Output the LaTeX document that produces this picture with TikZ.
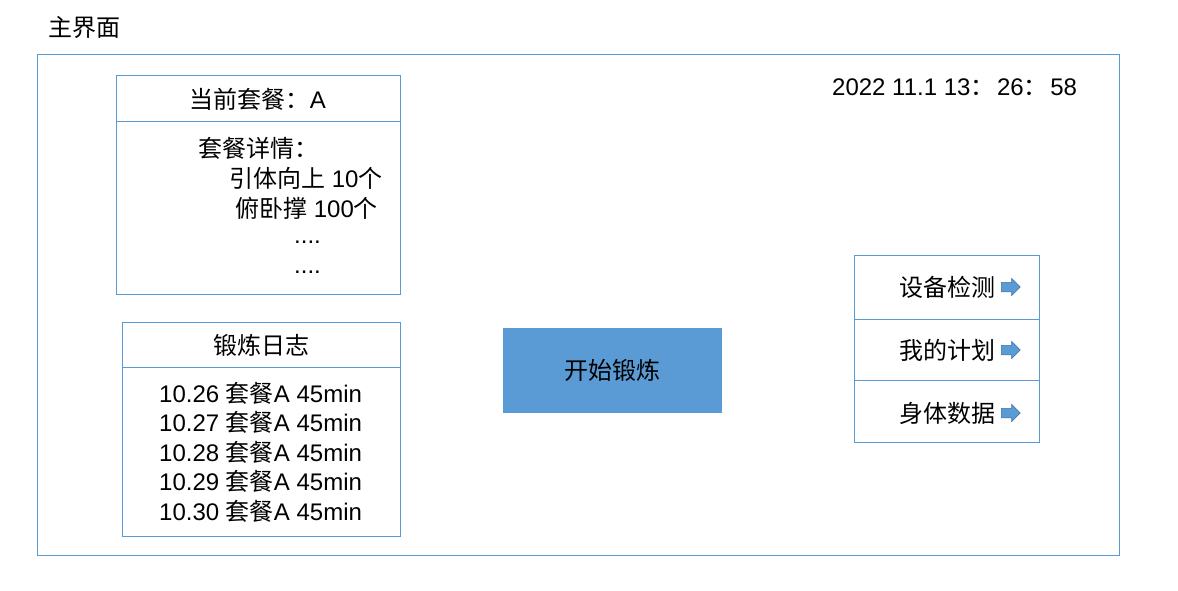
\documentclass[tikz,border=0pt]{standalone}
\usepackage{fontspec}
\setmainfont{Liberation Sans}
\newfontfamily\cjk{Noto Sans CJK SC}
\usepackage{tikz}
\usetikzlibrary{shapes.arrows, positioning}
\definecolor{uiBlue}{RGB}{91, 155, 213}
\definecolor{uiBlueDark}{RGB}{65, 113, 156}
\begin{document}
\begin{tikzpicture}[
    x=1pt, y=-1pt,
    every node/.style={font=\fontsize{24}{29}\selectfont, inner sep=0pt},
    frame/.style={draw=uiBlue, line width=0.8pt},
    item/.style={anchor=west},
    menuitem/.style={anchor=east},
    goarrow/.style={single arrow, fill=uiBlue, draw=uiBlueDark, line width=0.5pt, minimum height=19pt, inner xsep=0pt, inner ysep=4.5pt, single arrow head extend=4pt},
    startbtn/.style={fill=uiBlue, minimum width=219pt, minimum height=85pt},
]
\useasboundingbox (0,0) rectangle (1178,591);
\node[item] (title) at (48,28) {\cjk 主界面};
\draw[frame] (37,54) rectangle (1119,555);
\node[item] (clock) at (832,87) {2022 11.1 13{\cjk ：}\kern2.5pt 26{\cjk ：}\kern2.5pt 58};
% current plan
\draw[frame] (116,75) rectangle (400,294);
\draw[frame] (116,121) -- (400,121);
\node (plan) at (258,99) {{\cjk 当前套餐：}A};
\node[item] (detail) at (198,148) {\cjk 套餐详情：};
\node[item] (d1) at (229,178) {{\cjk 引体向上} 10{\cjk 个}};
\node[item] (d2) at (235,208) {{\cjk 俯卧撑} 100{\cjk 个}};
\node[item] (d3) at (294,242) {....};
\node[item] (d4) at (294,272) {....};
% training log
\draw[frame] (122,322) rectangle (400,536);
\draw[frame] (122,367) -- (400,367);
\node (log) at (261,345) {\cjk 锻炼日志};
\node[item] (l1) at (159,393) {10.26 {\cjk 套餐}A 45min};
\node[item] (l2) at (159,422) {10.27 {\cjk 套餐}A 45min};
\node[item] (l3) at (159,452) {10.28 {\cjk 套餐}A 45min};
\node[item] (l4) at (159,481) {10.29 {\cjk 套餐}A 45min};
\node[item] (l5) at (159,511) {10.30 {\cjk 套餐}A 45min};
% start button
\node[startbtn] (start) at (612.5,370.5) {\cjk 开始锻炼};
% menu
\draw[frame] (854,255) rectangle (1039,442);
\draw[frame] (854,319) -- (1039,319);
\draw[frame] (854,380) -- (1039,380);
\node[menuitem] (device) at (996,287) {\cjk 设备检测};
\node[menuitem] (myplan) at (996,350) {\cjk 我的计划};
\node[menuitem] (body) at (996,413) {\cjk 身体数据};
\node[goarrow, right=5pt of device] (adevice) {};
\node[goarrow, right=5pt of myplan] (amyplan) {};
\node[goarrow, right=5pt of body] (abody) {};
\end{tikzpicture}
\end{document}
